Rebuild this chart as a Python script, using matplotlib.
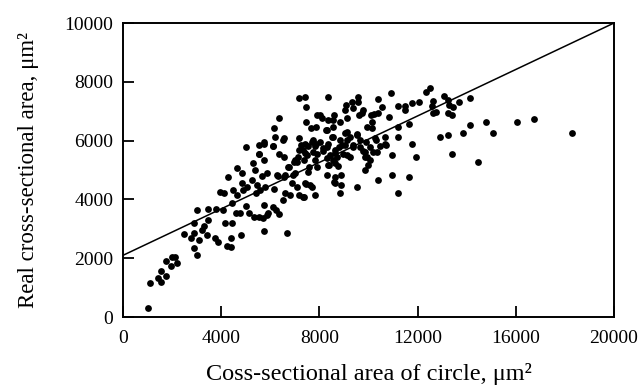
import numpy as np
import matplotlib
matplotlib.use("Agg")
from matplotlib import pyplot as plt

plt.rcParams['font.family'] = ['Liberation Serif', 'DejaVu Serif']

# cross-sectional area of the equivalent circle (um^2)
circle_area = [
    1000, 1090, 1440, 1550, 1560, 1750, 1770, 1960, 2010, 2110, 2200,
    2480, 2780, 2890, 2900, 2890, 3000, 3020, 3100, 3200, 3310, 3430, 3470, 3470,
    3750, 3790, 3880, 3950, 4110, 4090, 4150, 4220, 4400, 4290, 4450, 4490, 4430, 4400,
    4630, 4600, 4770, 4790, 4830, 4830, 4900, 5000, 5000, 5040, 4630,
    5130, 5240, 5310, 5340, 5380, 5420, 5440, 5550, 5550, 5580, 5650, 5720, 5740, 5740,
    5740, 5760, 5780, 5850, 5920, 5540, 5880, 5740, 5540,
    6090, 6130, 6150, 6160, 6190, 6330, 6350, 6350, 6370, 6500, 6530, 6570, 6600, 6600,
    6690, 6730, 6800, 6870, 6940, 7010, 6220, 6560, 6120, 6970, 6760, 6290, 6560,
    7070, 7170, 7170, 7180, 7160, 7410, 7440, 7450, 7340, 7410, 7480, 7320, 7410, 7550,
    7660, 7680, 7680, 7820, 7860, 7860, 7890, 7890, 7920, 7270, 7550, 7820, 7410, 7750,
    7370, 7820, 7590, 7620, 7750, 7140, 7070, 7010, 7450, 7370,
    8090, 8130, 8300, 8300, 8360, 8360, 8410, 8430, 8570, 8570, 8590, 8640, 8640, 8700,
    8840, 8840, 8840, 8860, 8880, 8900, 8020, 8590, 8360, 8570, 8020, 8500, 8300, 8810,
    8160, 8640, 8980, 8300, 8570, 8360, 8770, 8640, 8640, 8270,
    9040, 9040, 9080, 9110, 9110, 9110, 9250, 9320, 9360, 9360, 9520, 9520, 9580, 9580,
    9610, 9650, 9650, 9720, 9790, 9860, 9860, 9900, 9930, 9930, 9990, 9040, 9360, 9250,
    9790, 9860, 9550, 9110,
    10060, 10090, 10130, 10200, 10260, 10330, 10370, 10400, 10400, 10560, 10670, 10670,
    10830, 10920, 10940, 10940, 10470, 10310, 10130, 10060, 10220, 10710,
    11210, 11210, 11210, 11210, 11490, 11490, 11650, 11660, 11760, 11760, 11930, 12070,
    12350, 12520, 12570, 12620, 12640, 12740, 12910, 13090, 13220, 13250, 13220, 13290,
    13430, 13400, 13410, 13700, 13830, 14130, 14130, 14440, 14770, 15080, 16060, 16740,
    18300,
]

# real cross-sectional area (um^2)
real_area = [
    320, 1150, 1340, 1190, 1580, 1380, 1900, 1720, 2050, 2040, 1830,
    2820, 2680, 3200, 2850, 2340, 3650, 2100, 2620, 2960, 3080, 2790, 3300, 3660,
    2700, 3660, 2540, 4250, 4230, 3640, 3210, 2400, 2370, 4770, 3870, 4320, 3190, 2700,
    5060, 3530, 3530, 2790, 4890, 4550, 4320, 5790, 3780, 4430, 4150,
    3530, 4660, 5230, 3420, 5000, 4210, 4490, 5850, 5540, 4320, 4800, 3360, 5880, 5340,
    3810, 2930, 4430, 4890, 3530, 3390, 3470, 5960, 5530,
    5830, 3750, 4340, 6420, 6130, 4800, 6780, 5530, 3490, 3980, 6020, 5450, 4210, 4830,
    2870, 5110, 4150, 4570, 4830, 5340, 3640, 6090, 5810, 5290, 5090, 4830, 4770,
    4430, 7440, 6080, 5680, 4150, 7470, 7160, 6640, 5680, 5900, 5510, 4090, 4550, 4940,
    6420, 5960, 4430, 4150, 6450, 5900, 6870, 5560, 5110, 5850, 5820, 5820, 5590, 5620,
    5340, 5340, 5090, 4490, 6020, 5450, 5280, 4890, 4520, 4070,
    6760, 5740, 6360, 4830, 7470, 5900, 5170, 5510, 6700, 6130, 4600, 5680, 5230, 5450,
    6640, 6020, 4210, 4830, 4490, 5850, 6870, 6870, 6700, 6470, 5960, 6110, 5770, 5790,
    5660, 5590, 5540, 5400, 5340, 5170, 5140, 4770, 4550, 6360,
    7040, 6250, 7210, 6760, 5510, 6020, 6130, 7320, 7100, 5850, 6190, 4430, 7500, 7320,
    6870, 6020, 5790, 6930, 7040, 5620, 5000, 5960, 5450, 6470, 5170, 5850, 5790, 5450,
    5660, 5450, 6220, 6300,
    5340, 6870, 6640, 5620, 6080, 5620, 4660, 7400, 6930, 7130, 6130, 5900,
    6790, 7610, 5510, 4830, 5820, 6020, 6420, 5770, 6890, 5850,
    7180, 6470, 6130, 4210, 7180, 7040, 6560, 4770, 7270, 5900, 5430, 7320,
    7650, 7800, 7180, 7350, 6930, 6960, 6110, 7530, 6190, 6950, 7380, 7210,
    7160, 6870, 5560, 7320, 6270, 7440, 6530, 5280, 6620, 6250, 6630, 6720,
    6250,
]

# regression line end points
fit_x = [0, 20000]
fit_y = [2100, 10000]

fig = plt.figure(figsize=(6.42, 3.90), dpi=100)
ax = fig.add_axes([0.1916, 0.187, 0.7648, 0.754])

ax.scatter(circle_area, real_area, s=24, color='black', linewidths=0, zorder=3)
ax.plot(fit_x, fit_y, color='black', linewidth=1.1, zorder=2)

ax.set_xlim(0, 20000)
ax.set_ylim(0, 10000)
ax.set_xticks(np.arange(0, 20001, 4000))
ax.set_yticks(np.arange(0, 10001, 2000))
ax.tick_params(direction='in', length=8, width=1.3, labelsize=14,
               top=False, right=False)
ax.tick_params(axis='x', pad=9)
ax.tick_params(axis='y', pad=7)
for s in ax.spines.values():
    s.set_linewidth(1.4)

ax.set_xlabel("Coss-sectional area of circle, μm²", fontsize=17.5, labelpad=12)
ax.set_ylabel("Real cross-sectional area, μm²", fontsize=16.5, labelpad=18)

fig.savefig("out.png", dpi=100)
